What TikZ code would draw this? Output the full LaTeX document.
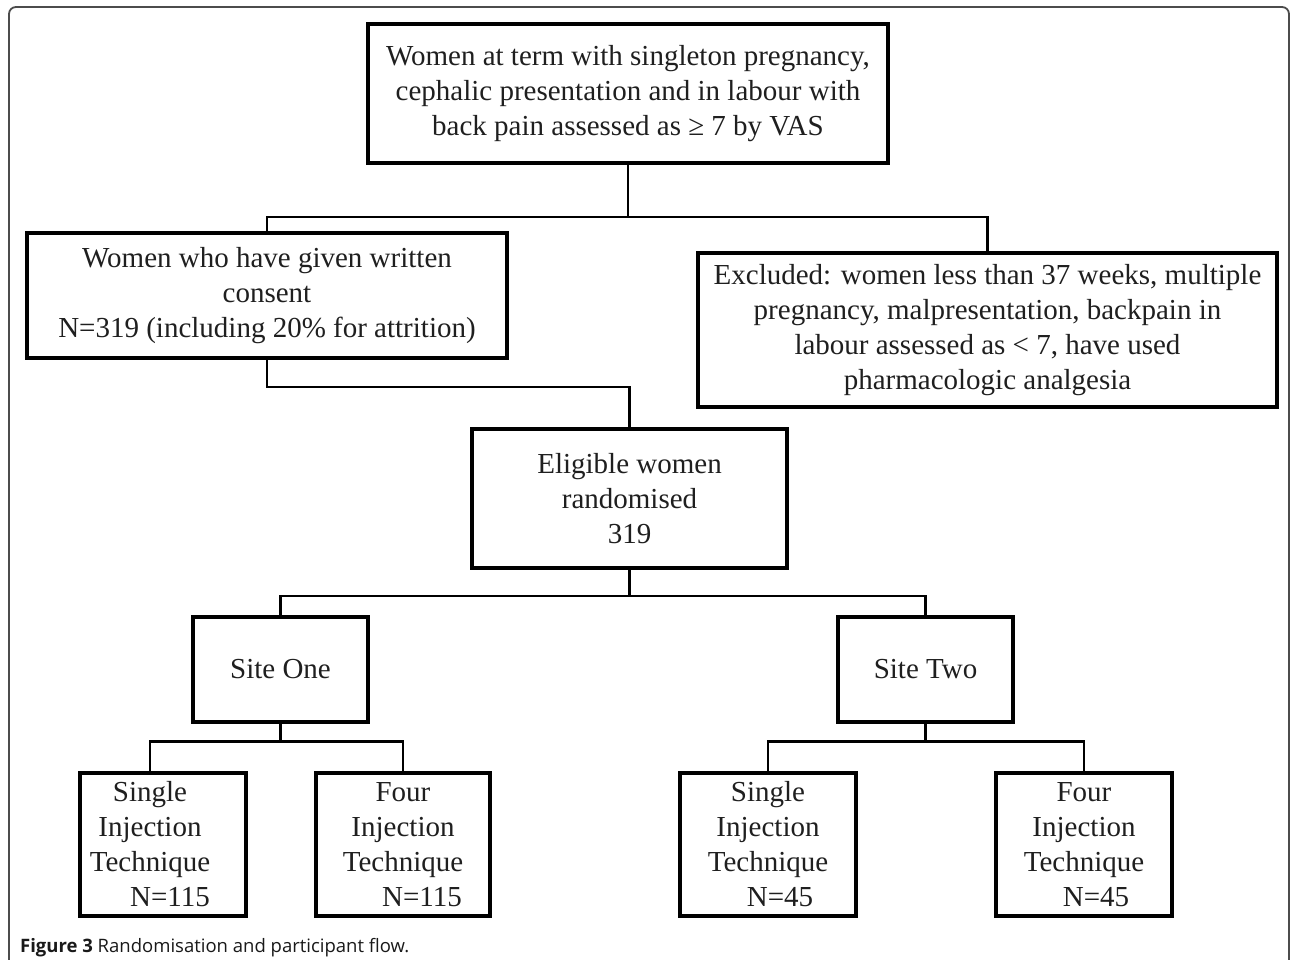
\documentclass[tikz,border=0pt]{standalone}
\usepackage{fontspec}
\setmainfont{Liberation Serif}
\newfontfamily\capfont{Open Sans}
\newcommand{\padr}{\rule{26pt}{0pt}}
\begin{document}
\begin{tikzpicture}[x=1pt,y=-1pt,
  box/.style={draw=black, line width=3.3pt, align=center, inner sep=0pt,
    font=\fontsize{29}{35}\selectfont, text=black!88},
  conn/.style={draw=black, line width=2.7pt},
  frame/.style={draw=black!70, line width=1.8pt, rounded corners=7pt}]
\useasboundingbox (0,0) rectangle (1290,960);
\clip (0,0) rectangle (1290,960);
\fill[white] (0,0) rectangle (1290,960);
\draw[frame] (9,990) -- (9,7) -- (1289,7) -- (1289,990);

\node[box, minimum width=520pt, minimum height=139pt] (top) at (628,93.5)
  {Women at term with singleton pregnancy,\\cephalic presentation and in labour with\\back pain assessed as ≥ 7 by VAS};
\node[box, minimum width=480pt, minimum height=125pt] (consent) at (267,295.5)
  {Women who have given written\\consent\\N=319 (including 20\% for attrition)};
\node[box, minimum width=579pt, minimum height=154pt] (excl) at (987.5,330)
  {Excluded: women less than 37 weeks, multiple\\pregnancy, malpresentation, backpain in\\labour assessed as < 7, have used\\pharmacologic analgesia};
\node[box, minimum width=315pt, minimum height=139pt] (elig) at (629.5,498.5)
  {Eligible women\\randomised\\319};
\node[box, minimum width=175pt, minimum height=105pt] (site1) at (280.5,669.5) {Site One};
\node[box, minimum width=175pt, minimum height=105pt] (site2) at (925.5,669.5) {Site Two};

\node[box, minimum width=166pt, minimum height=143pt] (s1a) at (163,844.5)
  {Single\padr\\Injection\padr\\Technique\padr\\\rule{14pt}{0pt}N=115};
\node[box, minimum width=174pt, minimum height=143pt] (s1b) at (403,844.5)
  {Four\\Injection\\Technique\\\rule{38pt}{0pt}N=115};
\node[box, minimum width=176pt, minimum height=143pt] (s2a) at (768,844.5)
  {Single\\Injection\\Technique\\\rule{24pt}{0pt}N=45};
\node[box, minimum width=176pt, minimum height=143pt] (s2b) at (1084,844.5)
  {Four\\Injection\\Technique\\\rule{24pt}{0pt}N=45};

\coordinate (j1) at (629,217);
\coordinate (j2) at (629,387);
\coordinate (j3) at (629,596);
\coordinate (j4) at (629,741.5);
\coordinate (x1a) at (150,773);

\draw[conn] (top.south) -- (top.south |- j1);
\draw[conn] (consent.north) -- (consent.north |- j1) -- (excl.north |- j1) -- (excl.north);
\draw[conn] (consent.south) -- (consent.south |- j2) -| (elig.north);
\draw[conn] (elig.south) -- (elig.south |- j3);
\draw[conn] (site1.north) -- (site1.north |- j3) -- (site2.north |- j3) -- (site2.north);
\draw[conn] (site1.south) -- (site1.south |- j4);
\draw[conn] (x1a |- s1a.north) -- (x1a |- j4) -- (s1b.north |- j4) -- (s1b.north);
\draw[conn] (site2.south) -- (site2.south |- j4);
\draw[conn] (s2a.north) -- (s2a.north |- j4) -- (s2b.north |- j4) -- (s2b.north);

\node[anchor=base west, inner sep=0pt, font=\capfont\fontsize{18.5}{22}\selectfont, text=black!90] (cap) at (20,952)
  {\textbf{Figure 3} Randomisation and participant flow.};
\end{tikzpicture}
\end{document}
